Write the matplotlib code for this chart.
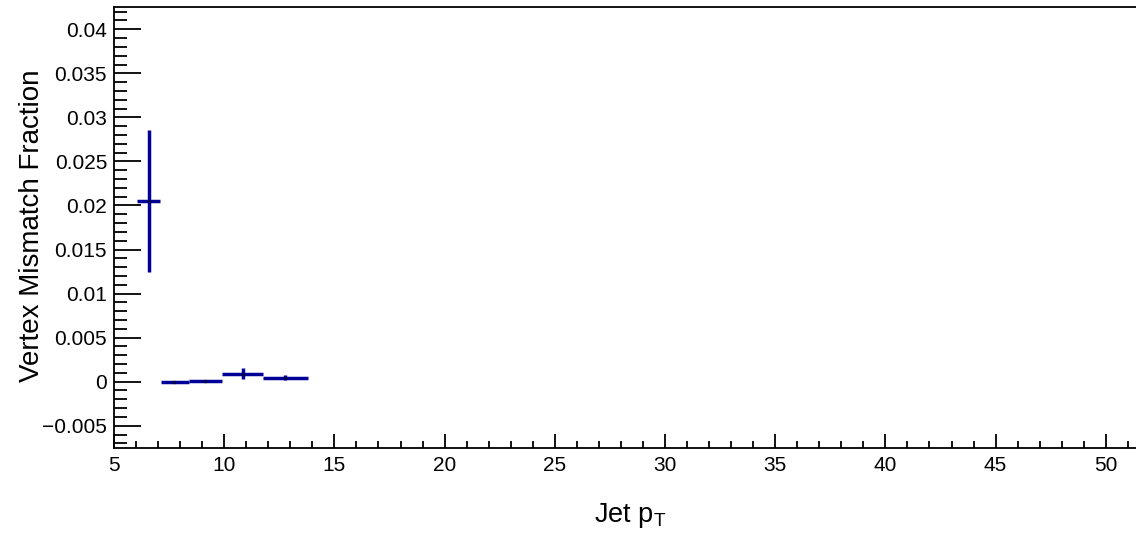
import matplotlib.pyplot as plt
from matplotlib.ticker import MultipleLocator, FuncFormatter

plt.rcParams['font.family'] = ['Liberation Sans', 'DejaVu Sans']
plt.rcParams['mathtext.fontset'] = 'custom'
plt.rcParams['mathtext.rm'] = 'Liberation Sans'
plt.rcParams['mathtext.it'] = 'Liberation Sans'

# dane
jet_pt = [6.6, 7.7, 9.15, 10.85, 12.75]
pt_low = [6.05, 7.15, 8.4, 9.9, 11.75]
pt_high = [7.1, 8.4, 9.9, 11.75, 13.8]
mismatch = [0.0205, 0.0, 0.0001, 0.0009, 0.00045]
mismatch_err = [0.0081, 0.00005, 0.00008, 0.0006, 0.00025]

xerr = [[x - lo for x, lo in zip(jet_pt, pt_low)],
        [hi - x for x, hi in zip(jet_pt, pt_high)]]

fig = plt.figure(figsize=(11.36, 5.34), dpi=100)
ax = fig.add_axes([114 / 1136, 86 / 534, 1022 / 1136, 441 / 534])

ax.errorbar(jet_pt, mismatch, xerr=xerr, yerr=mismatch_err, fmt='none',
            ecolor='#000099', elinewidth=2.5, capsize=0)
ax.plot(jet_pt, mismatch, ls='none', marker='.', ms=3, color='#000044')

ax.set_xlim(5, 51.37)
ax.set_ylim(-0.00753, 0.04253)

ax.xaxis.set_major_locator(MultipleLocator(5))
ax.xaxis.set_minor_locator(MultipleLocator(1))
ax.yaxis.set_major_locator(MultipleLocator(0.005))
ax.yaxis.set_minor_locator(MultipleLocator(0.001))
# format jak w ROOT, z prawdziwym minusem
ax.yaxis.set_major_formatter(FuncFormatter(lambda v, p: ('%g' % round(v, 4)).replace('-', '\u2212')))

ax.tick_params(axis='both', which='both', direction='in', width=1.3,
               labelsize=15, top=False, right=False)
ax.tick_params(axis='y', which='major', length=19.5, pad=5)
ax.tick_params(axis='y', which='minor', length=9.5)
ax.tick_params(axis='x', which='major', length=10, pad=6)
ax.tick_params(axis='x', which='minor', length=5)

for side in ['left', 'bottom', 'top']:
    ax.spines[side].set_linewidth(1.3)
ax.spines['right'].set_visible(False)

fig.text(32 / 1136, 1 - 226 / 534, 'Vertex Mismatch Fraction', rotation=90,
         ha='center', va='center', fontsize=20)
fig.text(630 / 1136, 1 - 516 / 534, 'Jet p$_\\mathrm{T}$',
         ha='center', va='center', fontsize=19.5)

fig.savefig('out.png', dpi=100)
